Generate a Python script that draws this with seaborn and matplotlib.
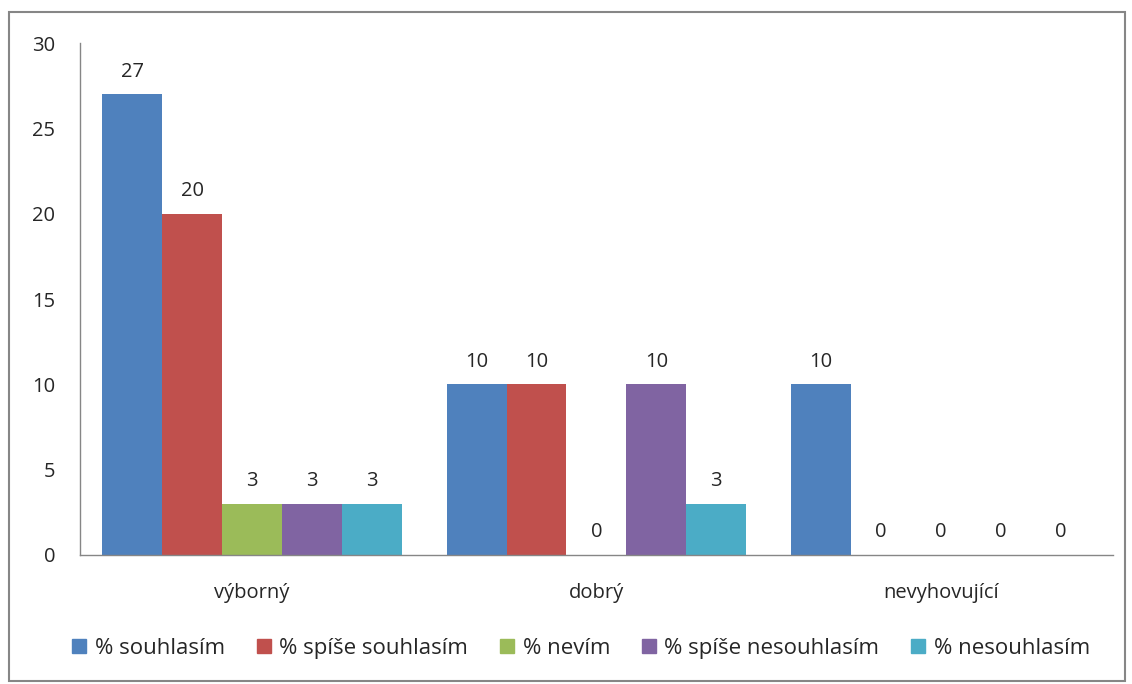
import matplotlib
matplotlib.use("Agg")
import matplotlib.pyplot as plt
import seaborn as sns
import pandas as pd
from matplotlib.patches import Rectangle
from matplotlib.lines import Line2D

# data
categories = ['výborný', 'dobrý', 'nevyhovující']
series = ['% souhlasím', '% spíše souhlasím', '% nevím', '% spíše nesouhlasím', '% nesouhlasím']
souhlasim = [27, 10, 10]
spise_souhlasim = [20, 10, 0]
nevim = [3, 0, 0]
spise_nesouhlasim = [3, 10, 0]
nesouhlasim = [3, 3, 0]
colors = ['#4F81BD', '#C0504D', '#9BBB59', '#8064A2', '#4BACC6']

values = [souhlasim, spise_souhlasim, nevim, spise_nesouhlasim, nesouhlasim]
rows = []
for s, vals in zip(series, values):
    for c, v in zip(categories, vals):
        rows.append({'kategorie': c, 'odpoved': s, 'hodnota': v})
df = pd.DataFrame(rows)

sns.set_style('white')
plt.rcParams['font.family'] = ['Open Sans', 'DejaVu Sans']

fig = plt.figure(figsize=(11.32, 6.84), dpi=100)
ax = fig.add_axes([0.0707, 0.1886, 0.9123, 0.7485])

sns.barplot(data=df, x='kategorie', y='hodnota', hue='odpoved', order=categories,
            hue_order=series, palette=colors, width=0.87, saturation=1,
            linewidth=0, legend=False, ax=ax)

for cont in ax.containers:
    ax.bar_label(cont, fmt='%g', padding=9, fontsize=14.5, color='#262626')

ax.set_ylim(0, 30)
ax.set_yticks(range(0, 31, 5))
ax.set_xlim(-0.5, 2.5)
ax.set_xlabel('')
ax.set_ylabel('')
ax.tick_params(axis='both', length=0, labelsize=14.5, labelcolor='#262626')
ax.tick_params(axis='y', pad=18)
ax.tick_params(axis='x', pad=20)
for side in ['top', 'right']:
    ax.spines[side].set_visible(False)
for side in ['left', 'bottom']:
    ax.spines[side].set_color('#868686')
    ax.spines[side].set_linewidth(1)

handles = [Line2D([], [], marker='s', linestyle='', markersize=10,
                  markerfacecolor=c, markeredgecolor=c) for c in colors]
fig.legend(handles, series, loc='center', bbox_to_anchor=(0.513, 0.052), ncol=5,
           frameon=False, fontsize=16, handlelength=0.7, handletextpad=0.35,
           columnspacing=1.4, labelcolor='#262626')

# chart border
fig.patches.append(Rectangle((0.008, 0.004), 0.986, 0.978, transform=fig.transFigure,
                             fill=False, edgecolor='#868686', linewidth=1.5))

fig.savefig('out.png', dpi=100)
